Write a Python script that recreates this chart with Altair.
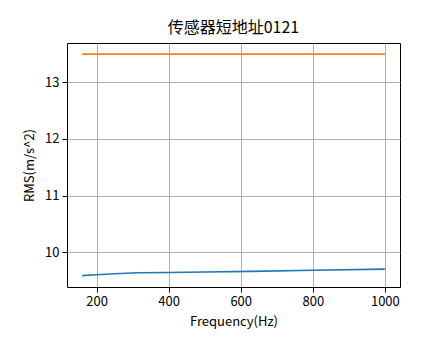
import altair as alt
import pandas as pd

freq_blue = [160, 200, 250, 315, 400, 500, 630, 800, 1000]
rms_blue = [9.585, 9.60, 9.617, 9.635, 9.641, 9.648, 9.66, 9.68, 9.70]
freq_orange = [160, 1000]
rms_orange = [13.5, 13.5]

df = pd.DataFrame({
    "f": freq_blue + freq_orange,
    "rms": rms_blue + rms_orange,
    "s": ["a"] * len(freq_blue) + ["b"] * len(freq_orange),
})

FONT = "Noto Sans CJK SC"

chart = alt.Chart(df).mark_line(strokeWidth=1.6, clip=True).encode(
    x=alt.X("f:Q", scale=alt.Scale(domain=[118, 1042], nice=False, zero=False),
            axis=alt.Axis(values=[200, 400, 600, 800, 1000], format="d", title="Frequency(Hz)")),
    y=alt.Y("rms:Q", scale=alt.Scale(domain=[9.384, 13.696], nice=False, zero=False),
            axis=alt.Axis(values=[10, 11, 12, 13], format="d", title="RMS(m/s^2)")),
    color=alt.Color("s:N", scale=alt.Scale(domain=["a", "b"], range=["#1f77b4", "#ff7f0e"]), legend=None),
).properties(
    width=333, height=244,
    title=alt.TitleParams("传感器短地址0121", font=FONT, fontSize=16, fontWeight="normal",
                          color="black", offset=7, anchor="middle"),
    autosize=alt.AutoSizeParams(type="none"),
    padding={"left": 67, "top": 43, "right": 44, "bottom": 72},
).configure_view(
    stroke="black", strokeWidth=1
).configure_axis(
    grid=True, gridColor="#b0b0b0", gridWidth=1, gridOpacity=1,
    domain=False, tickColor="black", tickSize=5, tickWidth=1,
    labelFont=FONT, labelFontSize=13, labelColor="black", labelPadding=3,
    titleFont=FONT, titleFontSize=13, titleFontWeight="normal", titleColor="black",
).configure_axisX(
    titlePadding=7
).configure_axisY(
    titlePadding=8
)

chart.save("out.html", embed_options={"renderer": "svg", "actions": False})
